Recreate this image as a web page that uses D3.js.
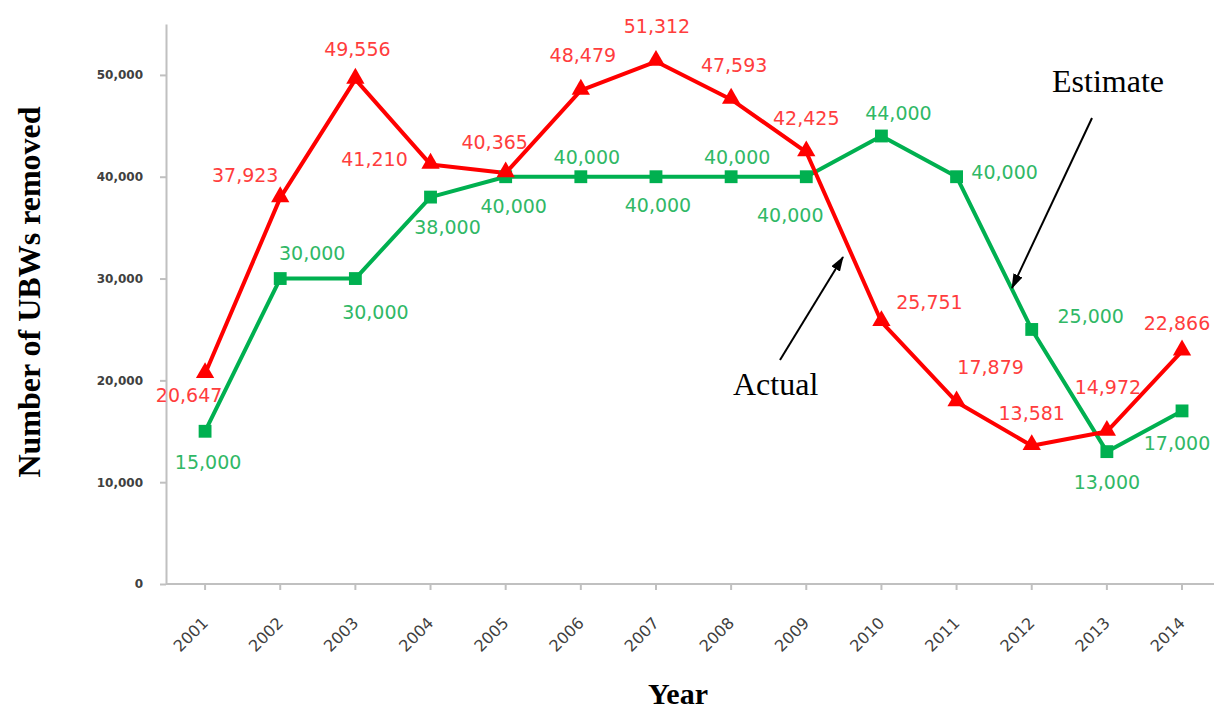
<!DOCTYPE html>
<html>
<head>
<meta charset="utf-8">
<script src="https://cdn.jsdelivr.net/npm/d3@7"></script>
<style>
  body { margin: 0; background: #fff; }
  svg { display: block; }
</style>
</head>
<body>
<div id="chart"></div>
<script>
// data
var years = ["2001", "2002", "2003", "2004", "2005", "2006", "2007",
             "2008", "2009", "2010", "2011", "2012", "2013", "2014"];
var actual = [20647, 37923, 49556, 41210, 40365, 48479, 51312,
              47593, 42425, 25751, 17879, 13581, 14972, 22866];
var estimate = [15000, 30000, 30000, 38000, 40000, 40000, 40000,
                40000, 40000, 44000, 40000, 25000, 13000, 17000];
var yTicks = [0, 10000, 20000, 30000, 40000, 50000];

// where each value label sits relative to its point (pixels)
var actualLabelDx = [-16, -35, 2, -56, -11, 2, 1, 3, 0, 48, 34, 0, 1, -5];
var actualLabelDy = [21, -23, -30, -5, -31, -35, -35, -34, -34, -20, -35, -33, -44, -28];
var estimateLabelDx = [3, 32, 20, 17, 8, 6, 2, 6, -16, 17, 48, 59, 0, -5];
var estimateLabelDy = [31, -25, 34, 30, 29, -20, 28, -20, 38, -23, -5, -13, 31, 32];

var w = 1214,
    h = 711;

var red = "#ff0000",
    green = "#00b050",
    redText = "#ff3d3d",
    greenText = "#30b866";

var svg = d3.select("#chart")
    .append("svg")
    .attr("width", w)
    .attr("height", h);

var x = d3.scaleBand()
    .domain(years)
    .range([167.5, 1219.6]);

var y = d3.scaleLinear()
    .domain([0, 55000])
    .range([584, 24]);

function cx(i) { return x(years[i]) + x.bandwidth() / 2; }

// Y axis
var yAxis = svg.append("g")
    .attr("transform", "translate(166,0)")
    .call(d3.axisLeft(y)
        .tickValues(yTicks)
        .tickSize(6)
        .tickSizeOuter(0)
        .tickPadding(17)
        .tickFormat(d3.format(",")));

yAxis.select(".domain").attr("stroke", "#c0c0c0").attr("stroke-width", 2);
yAxis.selectAll(".tick line").attr("stroke", "#c0c0c0").attr("stroke-width", 2);
yAxis.selectAll("text")
    .attr("font-family", "DejaVu Sans")
    .attr("font-weight", "bold")
    .attr("font-size", "12px")
    .attr("fill", "#404040");

// X axis
var xAxis = svg.append("g")
    .attr("transform", "translate(0,584)")
    .call(d3.axisBottom(x).tickSize(6).tickSizeOuter(0));

xAxis.select(".domain").attr("stroke", "#c0c0c0").attr("stroke-width", 2)
    .attr("d", "M166,0H1214");
xAxis.selectAll(".tick line").attr("stroke", "#c0c0c0").attr("stroke-width", 2);
xAxis.selectAll("text")
    .attr("y", null)
    .attr("dy", null)
    .attr("text-anchor", "end")
    .attr("transform", "translate(4,40) rotate(-45)")
    .attr("font-family", "DejaVu Sans")
    .attr("font-size", "16px")
    .attr("fill", "#404040");

// lines
var line = d3.line()
    .x(function(d, i) { return cx(i); })
    .y(function(d) { return y(d); });

svg.append("path")
    .datum(estimate)
    .attr("fill", "none")
    .attr("stroke", green)
    .attr("stroke-width", 4)
    .attr("stroke-linejoin", "round")
    .attr("d", line);

svg.append("path")
    .datum(actual)
    .attr("fill", "none")
    .attr("stroke", red)
    .attr("stroke-width", 4)
    .attr("stroke-linejoin", "round")
    .attr("d", line);

// markers
svg.selectAll(".sq")
    .data(estimate)
    .enter()
    .append("path")
    .attr("class", "sq")
    .attr("d", d3.symbol().type(d3.symbolSquare).size(165))
    .attr("transform", function(d, i) { return "translate(" + cx(i) + "," + y(d) + ")"; })
    .attr("fill", green);

svg.selectAll(".tri")
    .data(actual)
    .enter()
    .append("path")
    .attr("class", "tri")
    .attr("d", d3.symbol().type(d3.symbolTriangle).size(145))
    .attr("transform", function(d, i) { return "translate(" + cx(i) + "," + (y(d) - 1) + ")"; })
    .attr("fill", red);

// value labels
svg.selectAll(".lab-est")
    .data(estimate)
    .enter()
    .append("text")
    .attr("class", "lab-est")
    .attr("x", function(d, i) { return cx(i) + estimateLabelDx[i]; })
    .attr("y", function(d, i) { return y(d) + estimateLabelDy[i]; })
    .attr("dy", "0.36em")
    .attr("text-anchor", "middle")
    .attr("font-family", "DejaVu Sans")
    .attr("font-size", "19px")
    .attr("fill", greenText)
    .text(function(d) { return d3.format(",")(d); });

svg.selectAll(".lab-act")
    .data(actual)
    .enter()
    .append("text")
    .attr("class", "lab-act")
    .attr("x", function(d, i) { return cx(i) + actualLabelDx[i]; })
    .attr("y", function(d, i) { return y(d) + actualLabelDy[i]; })
    .attr("dy", "0.36em")
    .attr("text-anchor", "middle")
    .attr("font-family", "DejaVu Sans")
    .attr("font-size", "19px")
    .attr("fill", redText)
    .text(function(d) { return d3.format(",")(d); });

// axis titles
svg.append("text")
    .attr("transform", "translate(40,292) rotate(-90)")
    .attr("text-anchor", "middle")
    .attr("font-family", "Liberation Serif")
    .attr("font-weight", "bold")
    .attr("font-size", "32px")
    .attr("fill", "#000")
    .text("Number of UBWs removed");

svg.append("text")
    .attr("x", 678)
    .attr("y", 704)
    .attr("text-anchor", "middle")
    .attr("font-family", "Liberation Serif")
    .attr("font-weight", "bold")
    .attr("font-size", "30px")
    .attr("fill", "#000")
    .text("Year");

// annotations with arrows
svg.append("defs").append("marker")
    .attr("id", "arrow")
    .attr("viewBox", "0 0 15 10")
    .attr("refX", 14)
    .attr("refY", 5)
    .attr("markerWidth", 7.5)
    .attr("markerHeight", 5)
    .attr("markerUnits", "strokeWidth")
    .attr("orient", "auto")
    .append("path")
    .attr("d", "M0,0L15,5L0,10Z")
    .attr("fill", "#000");

svg.append("line")
    .attr("x1", 1092).attr("y1", 118)
    .attr("x2", 1012).attr("y2", 288)
    .attr("stroke", "#000")
    .attr("stroke-width", 2)
    .attr("marker-end", "url(#arrow)");

svg.append("line")
    .attr("x1", 780).attr("y1", 360)
    .attr("x2", 843).attr("y2", 257)
    .attr("stroke", "#000")
    .attr("stroke-width", 2)
    .attr("marker-end", "url(#arrow)");

svg.append("text")
    .attr("x", 1052)
    .attr("y", 92)
    .attr("font-family", "Liberation Serif")
    .attr("font-size", "32px")
    .attr("fill", "#000")
    .text("Estimate");

svg.append("text")
    .attr("x", 733)
    .attr("y", 395)
    .attr("font-family", "Liberation Serif")
    .attr("font-size", "32px")
    .attr("fill", "#000")
    .text("Actual");
</script>
</body>
</html>
